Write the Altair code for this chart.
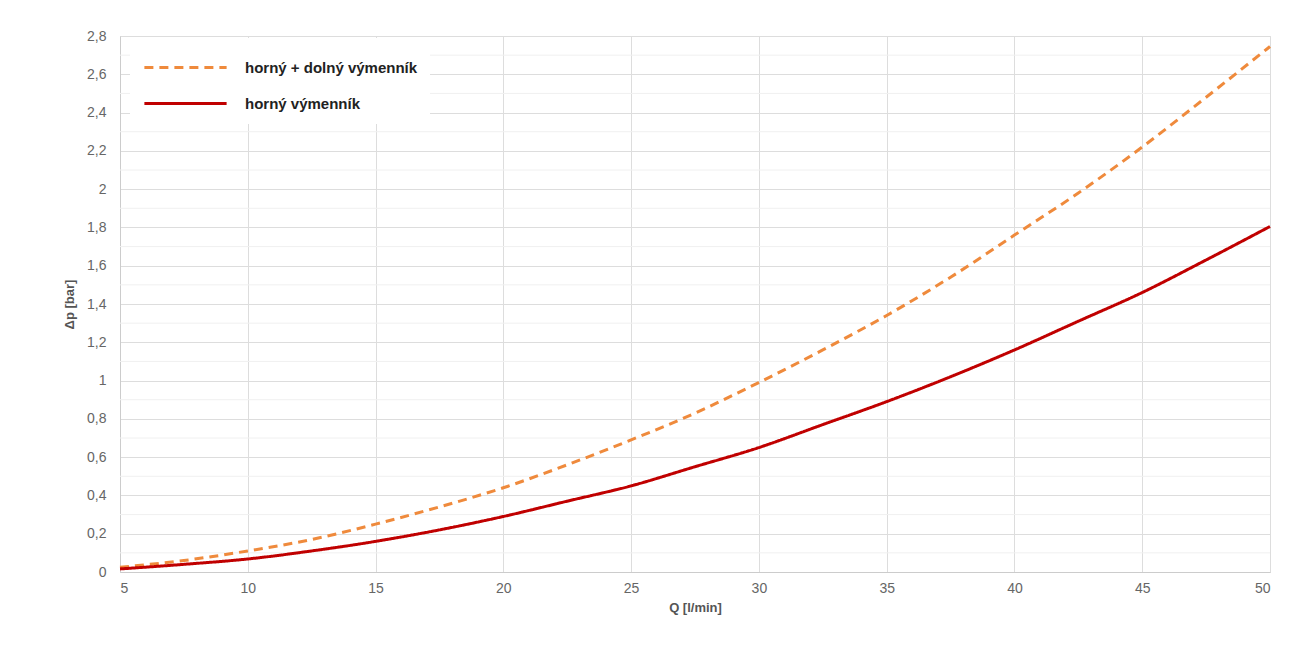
import altair as alt
import pandas as pd

q = [5, 7.5, 10, 12.5, 15, 17.5, 20, 22.5, 25, 27.5, 30, 32.5, 35, 37.5, 40, 42.5, 45, 47.5, 50]
both = [0.025, 0.06, 0.11, 0.17, 0.25, 0.34, 0.44, 0.56, 0.69, 0.83, 0.99, 1.16, 1.34, 1.54, 1.76, 1.98, 2.22, 2.48, 2.745]
upper = [0.016, 0.04, 0.068, 0.11, 0.16, 0.22, 0.29, 0.37, 0.45, 0.55, 0.65, 0.77, 0.89, 1.02, 1.16, 1.31, 1.46, 1.63, 1.805]
series_names = ["horný + dolný výmenník", "horný výmenník"]
y_ticks = [round(i * 0.2, 1) for i in range(15)]
y_minor = [round(0.1 + i * 0.2, 1) for i in range(14)]
x_ticks = [5, 10, 15, 20, 25, 30, 35, 40, 45, 50]

rows = []
for qi, a, b in zip(q, both, upper):
    rows.append({"Q": qi, "dp": a, "s": series_names[0]})
    rows.append({"Q": qi, "dp": b, "s": series_names[1]})
df = pd.DataFrame(rows)
minor_df = pd.DataFrame({"v": y_minor})

xscale = alt.Scale(domain=[5, 50], nice=False, zero=False)
yscale = alt.Scale(domain=[0, 2.8], nice=False)

yaxis = alt.Axis(values=y_ticks, title="Δp [bar]", grid=True, gridColor="#dddddd",
                 domainColor="#cccccc", ticks=False, labelPadding=14,
                 labelFontSize=14, labelColor="#666666", titleFontSize=13,
                 titleColor="#555555", titleFontWeight="bold", titlePadding=10,
                 labelExpr="replace(format(datum.value, '.1~f'), '.', ',')")

minor = alt.Chart(minor_df).mark_rule(color="#f0f0f0", strokeWidth=1).encode(
    y=alt.Y("v:Q", scale=yscale, axis=yaxis)
)

lines = alt.Chart(df).mark_line(strokeWidth=3, interpolate="monotone").encode(
    x=alt.X("Q:Q", scale=xscale,
            axis=alt.Axis(values=x_ticks, title="Q [l/min]", grid=True, gridColor="#dddddd",
                          domainColor="#cccccc", ticks=False, labelPadding=9,
                          labelFontSize=14, labelColor="#666666", titleFontSize=13,
                          titleColor="#555555", titleFontWeight="bold", titlePadding=6)),
    y=alt.Y("dp:Q", scale=yscale, axis=yaxis),
    color=alt.Color("s:N", scale=alt.Scale(domain=series_names, range=["#EF8A3C", "#C00000"]),
                    legend=alt.Legend(title=None, orient="none", legendX=10, legendY=2,
                                      symbolType="M-2.6,0L2.6,0", symbolSize=1000, symbolStrokeWidth=3,
                                      symbolOffset=26,
                                      labelFontSize=15, labelFontWeight="bold", labelColor="#222222",
                                      labelOffset=42, rowPadding=10, padding=12, labelLimit=400,
                                      fillColor="white")),
    strokeDash=alt.StrokeDash("s:N", scale=alt.Scale(domain=series_names, range=[[9, 6], [1, 0]]),
                              legend=None),
)

chart = alt.layer(minor, lines).properties(
    width=1150, height=536,
    autosize=alt.AutoSizeParams(type="none"),
    padding={"left": 112, "top": 28, "right": 30, "bottom": 70},
).configure_view(stroke="#dddddd").configure(font="Liberation Sans")

chart.save("out.html", embed_options={"renderer": "svg", "actions": False})
